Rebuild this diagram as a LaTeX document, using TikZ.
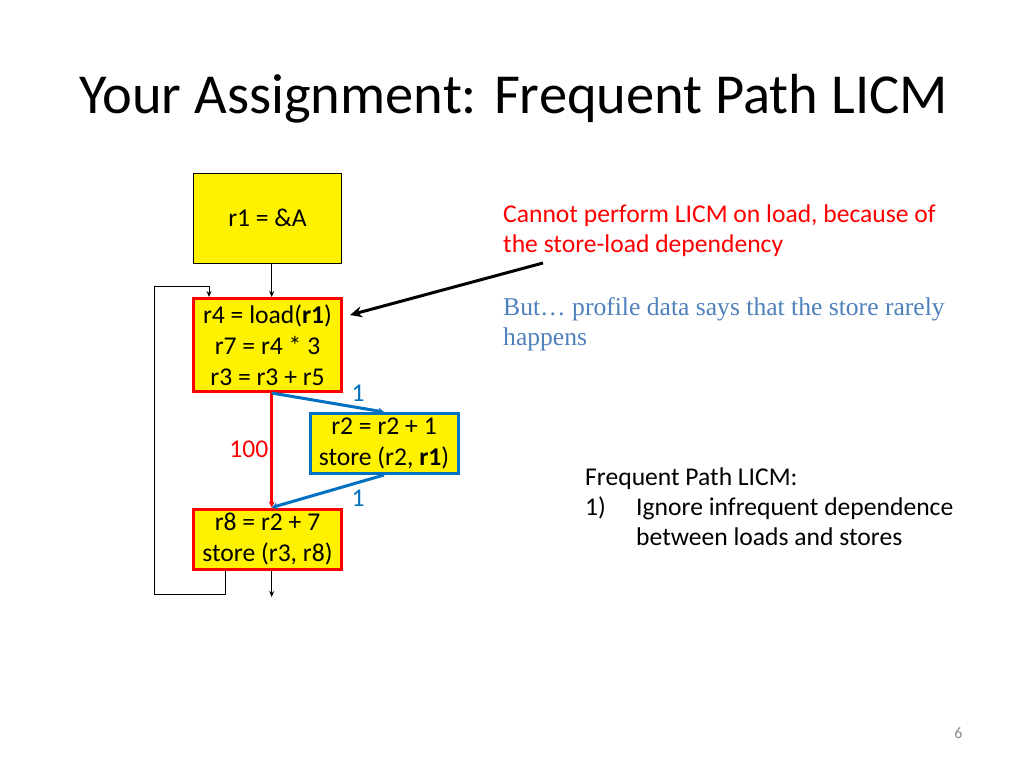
\documentclass[tikz,border=0pt]{standalone}
\usepackage{fontspec}
\setmainfont{Carlito}
\newfontfamily\tnrfont{Liberation Serif}
\usetikzlibrary{arrows.meta}
\definecolor{myblue}{RGB}{0,112,192}
\definecolor{grayblue}{RGB}{79,129,189}
\definecolor{pgray}{RGB}{137,137,137}
\newcommand{\bodyfont}{\fontsize{25.6}{31}\selectfont}
\newcommand{\titlefont}{\fontsize{56.5}{68}\selectfont}
\begin{document}
\begin{tikzpicture}[x=1pt,y=-1pt,
  cfgbox/.style={fill=yellow, minimum width=148pt, inner sep=0pt, font=\bodyfont, align=center},
  plainbox/.style={cfgbox, draw=black, line width=1pt},
  hotbox/.style={cfgbox, draw=red, line width=3pt},
  coldbox/.style={cfgbox, draw=myblue, line width=3pt},
  thinarrow/.style={draw=black, line width=1pt, -{Stealth[length=6pt,width=5pt]}},
  hotarrow/.style={draw=red, line width=3pt, -{Stealth[length=6pt,width=6pt]}},
  coldarrow/.style={draw=myblue, line width=3pt, -{Stealth[length=6pt,width=7pt]}},
  bigarrow/.style={draw=black, line width=3pt, -{Stealth[length=12pt,width=11pt]}},
  txt/.style={anchor=base west, inner sep=0pt, font=\bodyfont}
]
\useasboundingbox (0,0) rectangle (1024,768);
\fill[white] (0,0) rectangle (1024,768);

% title
\node[anchor=base west, inner sep=0pt, font=\titlefont] (title) at (79,113) {Your Assignment: Frequent Path LICM};

% CFG blocks
\node[plainbox, minimum height=90pt] (b1) at (267.5,218) {r1 = \&A};
\node[hotbox, minimum height=93pt] (b2) at (267.5,345) {r4 = load(\textbf{r1})\\r7 = r4 * 3\\r3 = r3 + r5};
\node[coldbox, minimum height=60pt] (b3) at (384,443.5) {r2 = r2 + 1\\store (r2, \textbf{r1})};
\node[hotbox, minimum height=60pt] (b4) at (267.5,539) {r8 = r2 + 7\\store (r3, r8)};

\coordinate (ax) at (271.7,0);
\coordinate (lpa) at (225,0);
\coordinate (lpb) at (209,0);
\coordinate (exitpt) at (271.7,597);

% edges
\draw[thinarrow] (b1.south -| ax) -- (b2.north -| ax);
\draw[hotarrow] (b2.south -| ax) -- (b4.north -| ax);
\draw[coldarrow] (b2.south -| ax) -- (b3.north);
\draw[coldarrow] (b3.south) -- (b4.north -| ax);
\draw[thinarrow] (b4.south -| lpa) -- (225,594) -- (154,594) -- (154,286) -- (209,286) -- (b2.north -| lpb);
\draw[thinarrow] (b4.south -| ax) -- (exitpt);

% edge labels
\node[anchor=base, inner sep=0pt, font=\bodyfont, text=myblue] (l1) at (358,401) {1};
\node[anchor=base east, inner sep=0pt, font=\bodyfont, text=red] (l100) at (268.5,457) {100};
\node[anchor=base, inner sep=0pt, font=\bodyfont, text=myblue] (l2) at (358,506) {1};

% annotations
\node[txt, text=red] (c1) at (503,222) {Cannot perform LICM on load, because of};
\node[txt, text=red] (c2) at (503,252) {the store-load dependency};
\coordinate (arrstart) at (543,263);
\coordinate (arrend) at (350,315);
\draw[bigarrow] (arrstart) -- (arrend);
\node[txt, text=grayblue, font=\tnrfont\bodyfont] (p1) at (503,315) {But… profile data says that the store rarely};
\node[txt, text=grayblue, font=\tnrfont\bodyfont] (p2) at (503,345) {happens};

\node[txt] (f1) at (585,485) {Frequent Path LICM:};
\node[txt] (f2) at (585,515) {1)};
\node[txt] (f3) at (636,515) {Ignore infrequent dependence};
\node[txt] (f4) at (636,545) {between loads and stores};

\node[anchor=base, inner sep=0pt, font=\fontsize{16}{19}\selectfont, text=pgray] (pg) at (958.5,738) {6};
\end{tikzpicture}
\end{document}
